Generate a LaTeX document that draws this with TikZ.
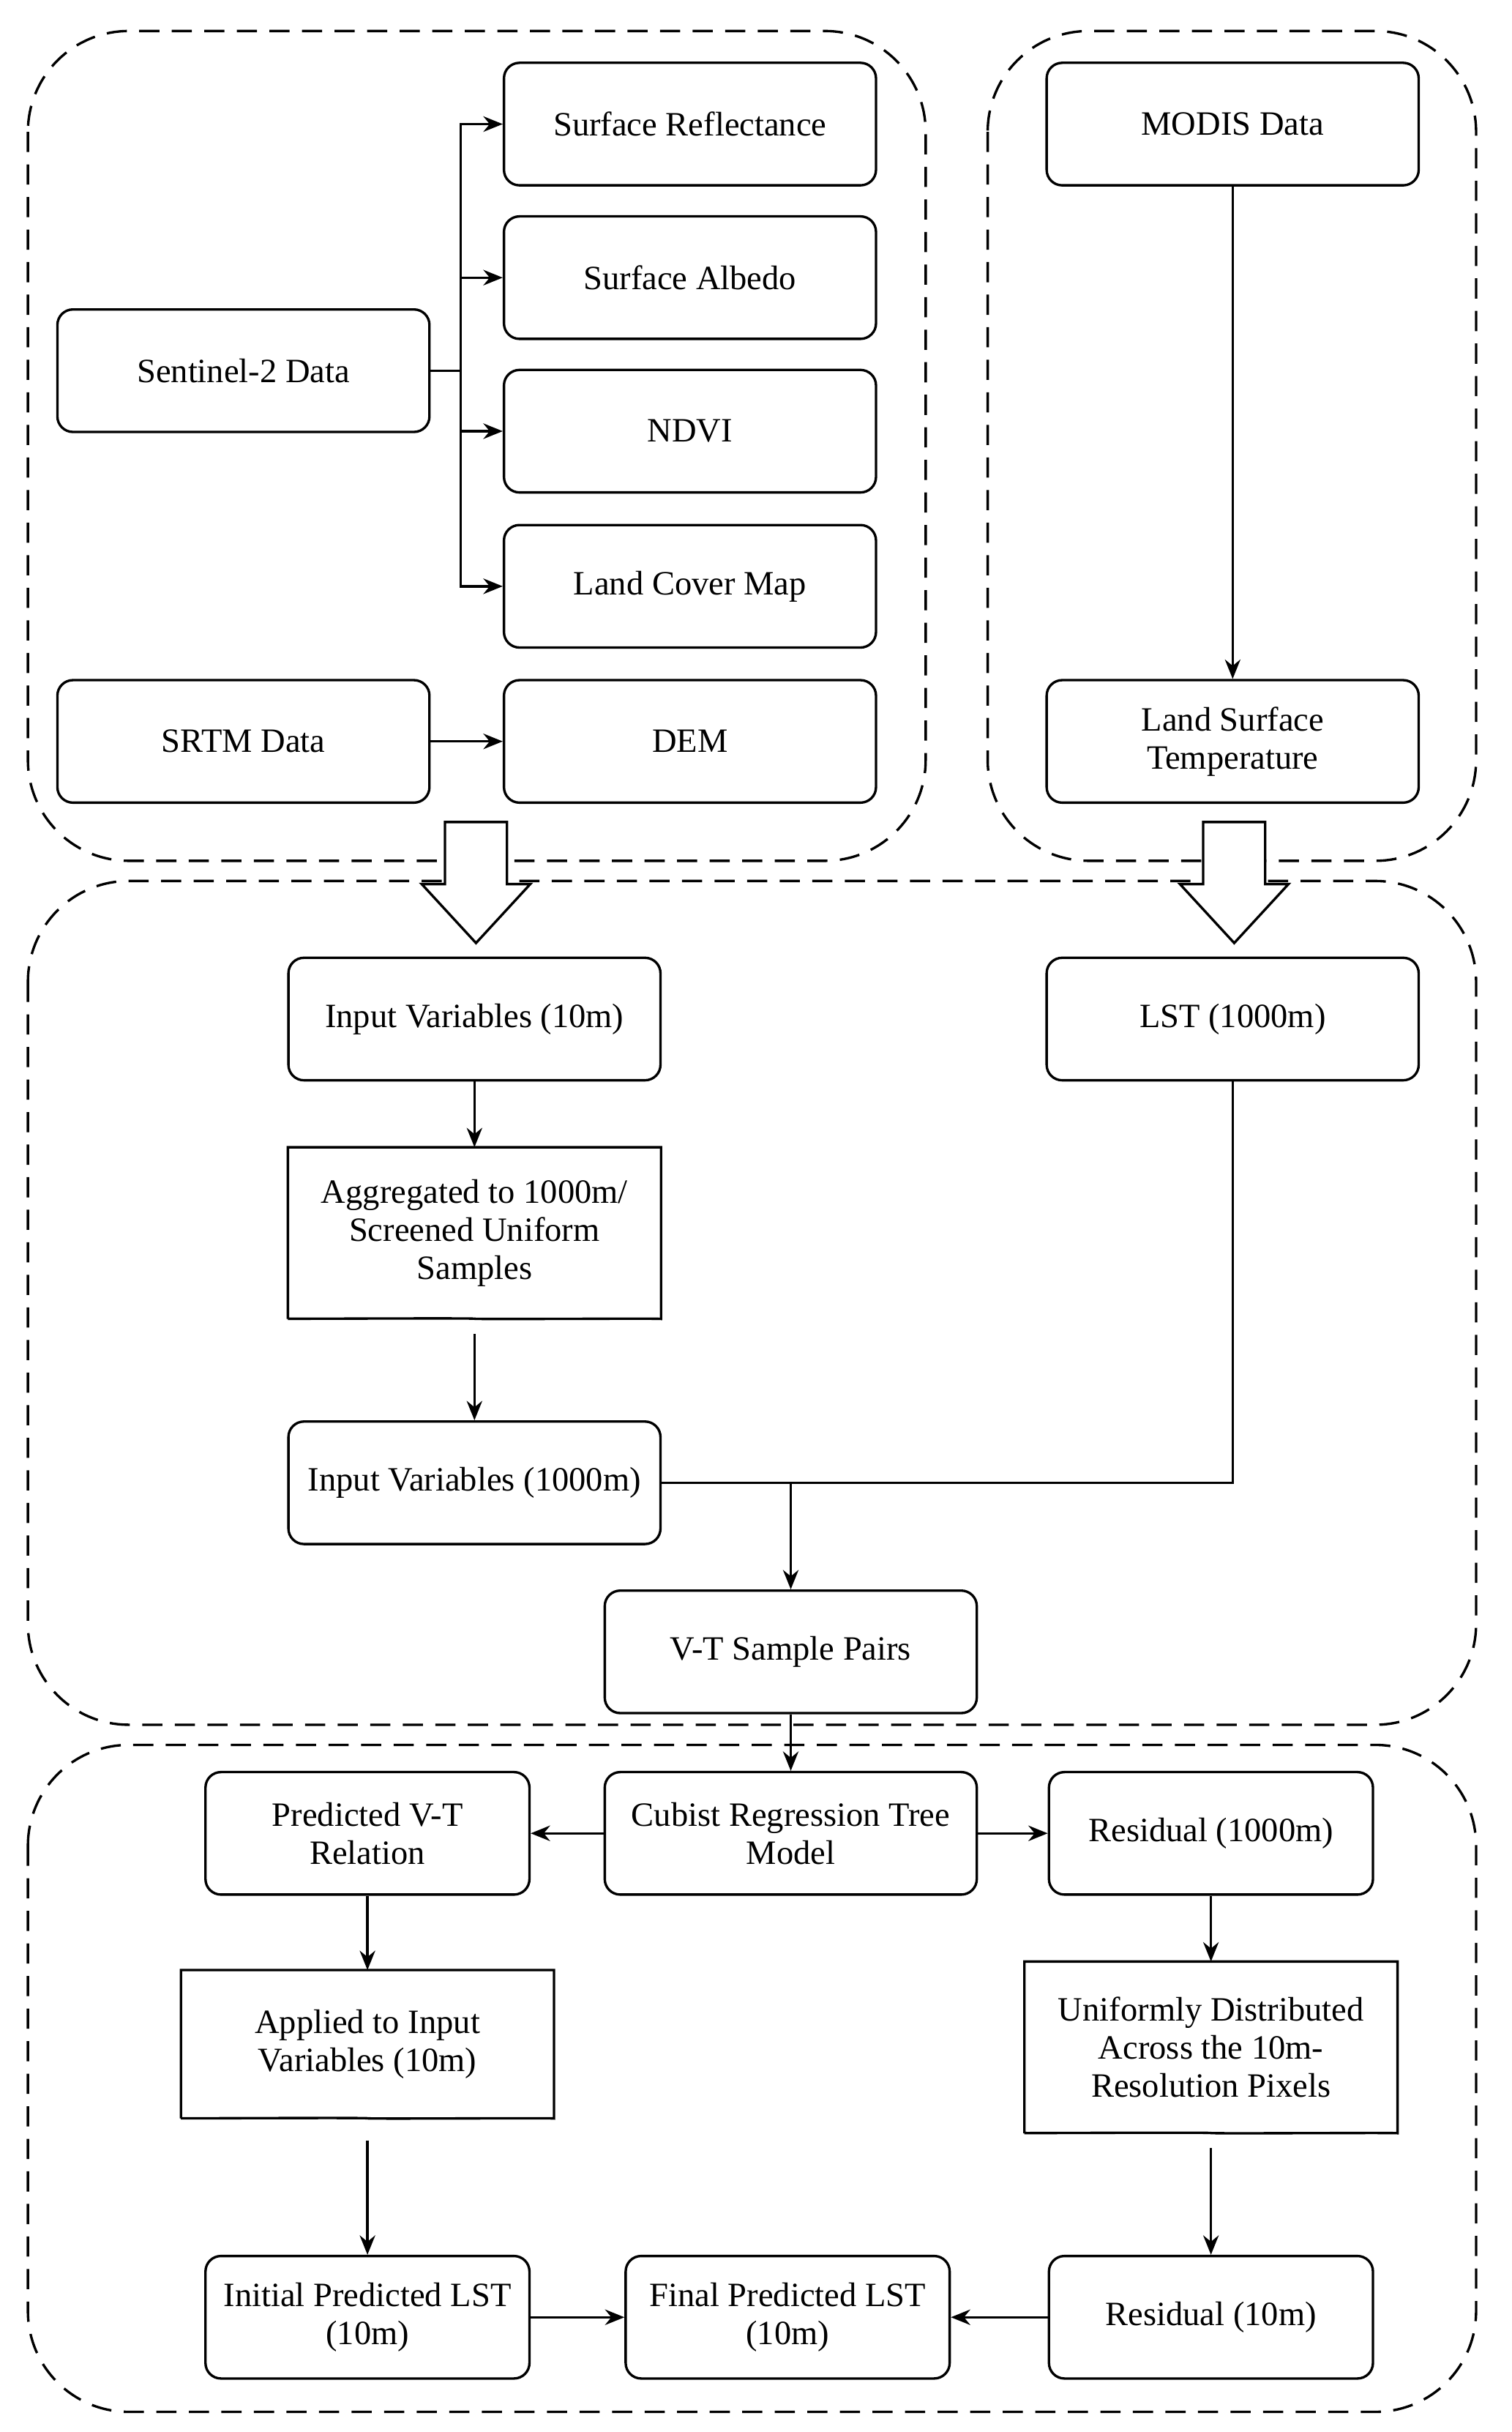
\documentclass[tikz,border=0pt]{standalone}
\usepackage{fontspec}
\setmainfont{Liberation Serif}
\usetikzlibrary{arrows.meta,positioning,calc}
\tikzset{
    box/.style={draw, rounded corners=0.2cm, minimum width=4.8cm, minimum height=1.58cm,
        align=center, font=\fontsize{12.5}{14}\selectfont, line width=0.9pt, inner sep=1pt},
    sbox/.style={box, minimum width=4.18cm},
    doc/.style={align=center, font=\fontsize{12.5}{14}\selectfont, minimum width=4.8cm, inner sep=1pt},
    region/.style={line width=0.9pt, dash pattern=on 0.26cm off 0.16cm, rounded corners=1.3cm},
    link/.style={-{Stealth[length=0.25cm,width=0.2cm]}, line width=0.9pt},
    plain/.style={line width=0.9pt},
    hollow/.style={draw, fill=white, line width=0.9pt}
}
\newcommand{\docshape}[1]{%
    \draw[plain] (#1.south west) -- (#1.north west) -- (#1.north east) -- (#1.south east)
        .. controls +(-1.6,-0.45) and +(1.4,0.5) .. ($(#1.south west)!0.5!(#1.south east)+(0,-0.12)$)
        .. controls +(-1.4,-0.5) and +(1.6,0.1) .. ($(#1.south west)+(0,-0.1)$) -- cycle;}
\begin{document}
\begin{tikzpicture}[x=0.02cm,y=-0.02cm]
    \useasboundingbox (0,0) rectangle (975,1568);
    % dashed groups
    \draw[region] (18,20) rectangle (597,555);
    \draw[region] (637,20) rectangle (952,555);
    \draw[region] (18,568) rectangle (952,1112);
    \draw[region] (18,1125) rectangle (952,1555);
    % sources
    \node[box] (refl) at (445,80) {Surface Reflectance};
    \node[box] (albedo) at (445,179) {Surface Albedo};
    \node[box] (ndvi) at (445,278) {NDVI};
    \node[box] (cover) at (445,378) {Land Cover Map};
    \node[box] (dem) at (445,478) {DEM};
    \node[box] (sentinel) at (157,239) {Sentinel-2 Data};
    \node[box] (srtm) at (157,478) {SRTM Data};
    \node[box] (modis) at (795,80) {MODIS Data};
    \node[box] (lst) at (795,478) {Land Surface\\Temperature};
    \coordinate (split) at (297,239);
    \draw[plain] (sentinel) -- (split);
    \foreach \t in {refl,albedo,ndvi,cover}
        \draw[link] (split) |- (\t);
    \draw[link] (srtm) -- (dem);
    \draw[link] (modis) -- (lst);
    % hollow arrows
    \foreach \cx in {307,796}
        \draw[hollow] (\cx-20,530) -- (\cx+20,530) -- (\cx+20,570) -- (\cx+35,570)
            -- (\cx,608) -- (\cx-35,570) -- (\cx-20,570) -- cycle;
    % sample building
    \node[box] (in10) at (306,657) {Input Variables (10m)};
    \node[box] (lst1000) at (795,657) {LST (1000m)};
    \node[doc, minimum height=2.2cm] (agg) at (306,795) {Aggregated to 1000m/\\Screened Uniform\\Samples};
    \docshape{agg}
    \node[box] (in1000) at (306,956) {Input Variables (1000m)};
    \node[box] (pairs) at (510,1065) {V-T Sample Pairs};
    \coordinate (join) at (510,956);
    \draw[link] (in10) -- (agg);
    \draw[link] (agg.south |- 0,860) -- (in1000);
    \draw[plain] (lst1000) |- (join);
    \draw[plain] (in1000) -- (join);
    \draw[link] (join) -- (pairs);
    % regression
    \node[box] (cubist) at (510,1182) {Cubist Regression Tree\\Model};
    \node[sbox] (vt) at (237,1182) {Predicted V-T\\Relation};
    \node[sbox] (res1000) at (781,1182) {Residual (1000m)};
    \node[doc, minimum height=1.9cm] (apply) at (237,1318) {Applied to Input\\Variables (10m)};
    \docshape{apply}
    \node[doc, minimum height=2.2cm] (spread) at (781,1320) {Uniformly Distributed\\Across the 10m-\\Resolution Pixels};
    \docshape{spread}
    \node[sbox] (init) at (237,1494) {Initial Predicted LST\\(10m)};
    \node[sbox] (final) at (508,1494) {Final Predicted LST\\(10m)};
    \node[sbox] (res10) at (781,1494) {Residual (10m)};
    \draw[link] (pairs) -- (cubist);
    \draw[link] (cubist) -- (vt);
    \draw[link] (cubist) -- (res1000);
    \draw[link] (vt) -- (apply);
    \draw[link] (res1000) -- (spread);
    \draw[link] (apply.south |- 0,1380) -- (init);
    \draw[link] (spread.south |- 0,1385) -- (res10);
    \draw[link] (init) -- (final);
    \draw[link] (res10) -- (final);
\end{tikzpicture}
\end{document}
